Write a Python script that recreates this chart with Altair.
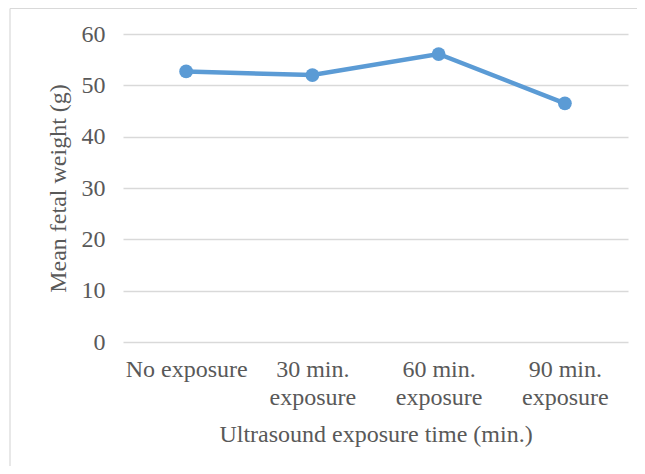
import altair as alt
import pandas as pd

categories = ["No exposure", "30 min.\nexposure", "60 min.\nexposure", "90 min.\nexposure"]
weights = [52.7, 52.0, 56.1, 46.5]

df = pd.DataFrame({"cat": categories, "w": weights, "order": [0, 1, 2, 3]})

FONT = "Liberation Serif"
GRAY = "#595959"
FS = 24

x_enc = alt.X("cat:N", sort=categories, title="Ultrasound exposure time (min.)",
              scale=alt.Scale(paddingInner=0, paddingOuter=0),
              axis=alt.Axis(labelAngle=0, labelExpr="split(datum.label, '\\n')",
                            labelFont=FONT, labelFontSize=FS, labelColor=GRAY,
                            labelLineHeight=28, labelPadding=15,
                            titleFont=FONT, titleFontSize=FS, titleColor=GRAY,
                            titleFontWeight="normal", titlePadding=13,
                            domain=False, ticks=False, grid=False))
y_enc = alt.Y("w:Q", title="Mean fetal weight (g)",
              scale=alt.Scale(domain=[0, 60]),
              axis=alt.Axis(values=[0, 10, 20, 30, 40, 50, 60],
                            labelFont=FONT, labelFontSize=FS, labelColor=GRAY,
                            labelPadding=18, titleFont=FONT, titleFontSize=FS,
                            titleColor=GRAY, titleFontWeight="normal", titlePadding=11,
                            domain=False, ticks=False, gridColor="#d9d9d9",
                            gridWidth=1.3))

base = alt.Chart(df).encode(x=x_enc, y=y_enc, order="order:Q")
line = base.mark_line(color="#5b9bd5", strokeWidth=4.5)
pts = base.mark_circle(color="#5b9bd5", size=190, opacity=1)

one = pd.DataFrame({"a": [0]})
top_rule = alt.Chart(one).mark_rule(color="#d9d9d9", strokeWidth=1.2).encode(
    x=alt.value(-113), x2=alt.value(520), y=alt.value(-25.5))
left_rule = alt.Chart(one).mark_rule(color="#d9d9d9", strokeWidth=1.2).encode(
    x=alt.value(-113), y=alt.value(-25.5), y2=alt.value(440))

chart = alt.layer(top_rule, left_rule, line, pts).properties(
    width=505, height=308,
    autosize=alt.AutoSizeParams(type="none"),
    padding={"left": 115, "top": 26, "right": 9, "bottom": 124},
).configure(background="white", view=alt.ViewConfig(strokeWidth=0))

chart.save("out.html", embed_options={"renderer": "svg", "actions": False})
